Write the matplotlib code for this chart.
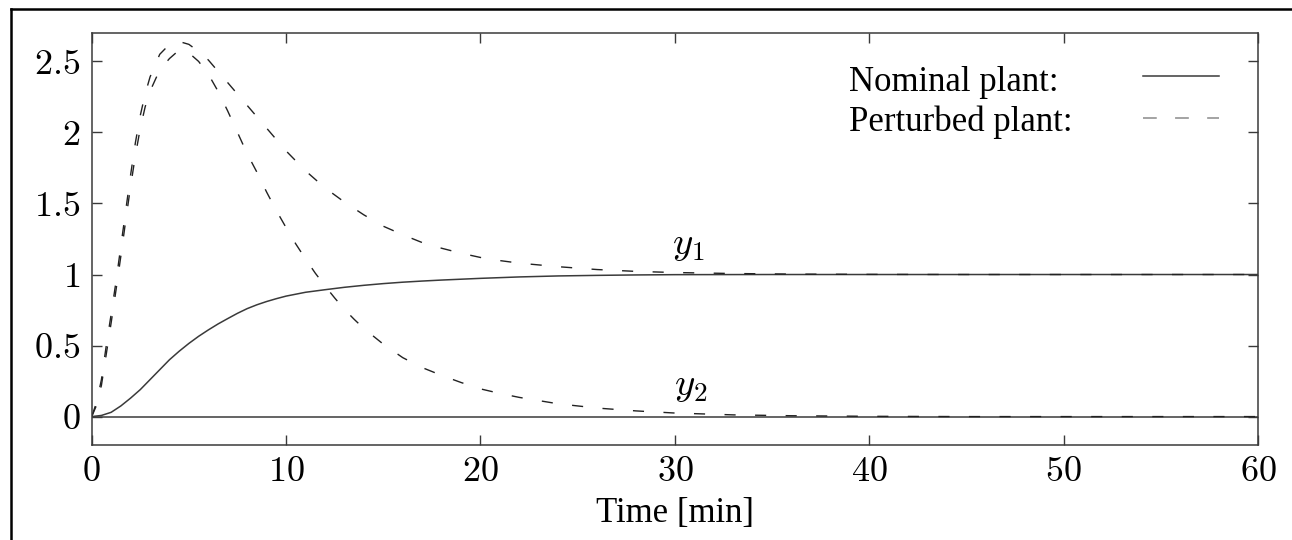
import matplotlib
matplotlib.use("Agg")
import matplotlib.pyplot as plt
from matplotlib.lines import Line2D

plt.rcParams["font.family"] = ["Liberation Serif", "DejaVu Serif"]
plt.rcParams["mathtext.fontset"] = "cm"

# Nominal plant: output y1 (y2 stays at zero)
t_nom = [0, 0.5, 1, 1.5, 2, 2.5, 3, 3.5, 4, 4.5, 5, 5.5, 6, 6.5, 7, 7.5, 8, 8.5, 9,
         9.5, 10, 11, 12, 13, 14, 15, 16, 17, 18, 20, 22, 24, 26, 28, 30, 35, 40,
         50, 60]
y1_nom = [0, 0.008, 0.03, 0.075, 0.13, 0.19, 0.26, 0.33, 0.40, 0.46, 0.515, 0.565,
          0.61, 0.652, 0.69, 0.727, 0.76, 0.787, 0.81, 0.83, 0.848, 0.875, 0.893,
          0.91, 0.924, 0.936, 0.946, 0.954, 0.961, 0.973, 0.983, 0.99, 0.994,
          0.997, 0.999, 1.0, 1.0, 1.0, 1.0]
t_nom2 = [0, 60]
y2_nom = [0, 0]

# Perturbed plant: outputs y1 and y2
t_pert = [0, 0.25, 0.5, 0.75, 1.0, 1.25, 1.5, 1.75, 2.0, 2.25, 2.5, 2.75, 3.0, 3.5,
          4.0, 4.5, 5.0, 5.5, 6.0, 6.5, 7.0, 7.5, 8.0, 8.5, 9.0, 9.5, 10, 10.5, 11,
          11.5, 12, 12.5, 13, 13.5, 14, 15, 16, 17, 18, 19, 20, 21, 22, 24, 26, 28,
          30, 33, 36, 40, 45, 50, 55, 60]
y1_pert = [0, 0.10, 0.26, 0.50, 0.72, 0.95, 1.20, 1.45, 1.70, 1.93, 2.12, 2.27,
           2.39, 2.55, 2.62, 2.64, 2.62, 2.57, 2.51, 2.43, 2.35, 2.27, 2.19, 2.11,
           2.03, 1.95, 1.87, 1.80, 1.73, 1.67, 1.61, 1.56, 1.51, 1.465, 1.42, 1.34,
           1.28, 1.225, 1.185, 1.15, 1.12, 1.098, 1.08, 1.055, 1.035, 1.022, 1.014,
           1.007, 1.003, 1.001, 1.0, 1.0, 1.0, 1.0]
y2_pert = [0, 0.08, 0.22, 0.44, 0.66, 0.89, 1.13, 1.38, 1.62, 1.84, 2.03, 2.18,
           2.29, 2.44, 2.52, 2.58, 2.56, 2.50, 2.41, 2.29, 2.15, 2.00, 1.85, 1.72,
           1.58, 1.45, 1.33, 1.215, 1.11, 1.01, 0.92, 0.835, 0.755, 0.685, 0.62,
           0.51, 0.415, 0.345, 0.29, 0.24, 0.195, 0.163, 0.135, 0.09, 0.06, 0.04,
           0.025, 0.012, 0.006, 0.002, 0.0, 0.0, 0.0, 0.0]

x_ticks = [0, 10, 20, 30, 40, 50, 60]
y_ticks = [0, 0.5, 1, 1.5, 2, 2.5]
y_tick_labels = ["0", "0.5", "1", "1.5", "2", "2.5"]

W, H = 1292, 540
fig = plt.figure(figsize=(W / 100, H / 100), dpi=100)
ax = fig.add_axes([91.7 / W, 1 - 445 / H, (1258 - 91.7) / W, (445 - 33) / H])

solid_col = "#3a3a3a"
dash_style = (0, (8, 14))
ax.plot(t_nom, y1_nom, color=solid_col, lw=1.1)
ax.plot(t_nom2, y2_nom, color=solid_col, lw=1.1)
ax.plot(t_pert, y1_pert, color="#222222", lw=1.0, linestyle=dash_style)
ax.plot(t_pert, y2_pert, color="#222222", lw=1.0, linestyle=dash_style)

ax.set_xlim(0, 60)
ax.set_ylim(-0.2, 2.7)
ax.set_xticks(x_ticks)
ax.set_xticklabels([f"${v}$" for v in x_ticks])
ax.set_yticks(y_ticks)
ax.set_yticklabels([f"${s}$" for s in y_tick_labels])
ax.tick_params(direction="in", length=7, width=1.0, color=solid_col,
               top=True, right=True, labelsize=26, pad=8)
for s in ax.spines.values():
    s.set_color(solid_col)
    s.set_linewidth(1.1)

ax.set_xlabel("Time [min]", fontsize=25, labelpad=6)

ax.text(30.7, 1.21, r"$y_1$", fontsize=28, ha="center", va="center")
ax.text(30.8, 0.22, r"$y_2$", fontsize=28, ha="center", va="center")

# Legend drawn as text rows with sample lines
ax.text(849 / W, 1 - 91 / H, "Nominal plant:", transform=fig.transFigure,
        fontsize=25, ha="left", va="baseline")
ax.text(849 / W, 1 - 131 / H, "Perturbed plant:", transform=fig.transFigure,
        fontsize=25, ha="left", va="baseline")
fig.add_artist(Line2D([1143 / W, 1219 / W], [1 - 76 / H, 1 - 76 / H],
                      color=solid_col, lw=1.1))
fig.add_artist(Line2D([1143 / W, 1219 / W], [1 - 118 / H, 1 - 118 / H],
                      color="#8a8a8a", lw=1.1, linestyle=(0, (9, 12))))

# Outer frame on the left and top edges
fig.add_artist(Line2D([10.5 / W, 10.5 / W], [0, 1 - 8.5 / H], color="black", lw=1.8))
fig.add_artist(Line2D([10.5 / W, 1], [1 - 8.5 / H, 1 - 8.5 / H], color="black", lw=1.8))

fig.savefig("out.png", dpi=100)
